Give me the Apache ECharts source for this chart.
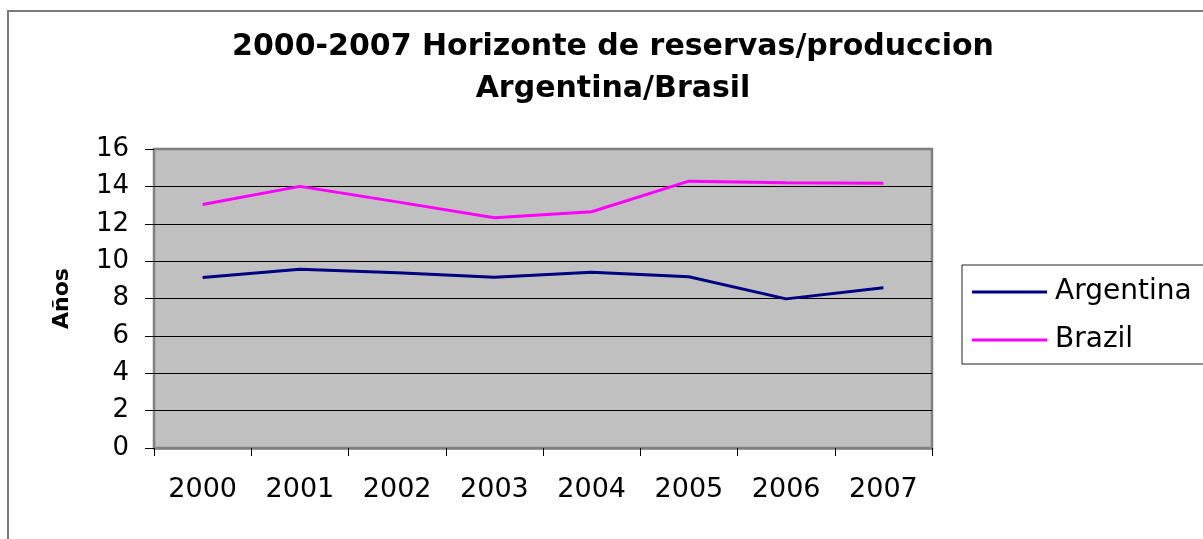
<!DOCTYPE html>
<html>
<head>
<meta charset="utf-8">
<script src="https://cdn.jsdelivr.net/npm/echarts@6/dist/echarts.min.js"></script>
<style>
  html, body { margin: 0; padding: 0; background: #fff; }
  #chart { width: 1203px; height: 539px; }
</style>
</head>
<body>
<div id="chart"></div>
<script>
  // datos
  const years = ['2000', '2001', '2002', '2003', '2004', '2005', '2006', '2007'];
  const argentina = [9.13, 9.56, 9.38, 9.14, 9.4, 9.16, 7.98, 8.57];
  const brazil = [13.03, 14.0, 13.17, 12.32, 12.64, 14.28, 14.2, 14.17];
  const yTicks = { min: 0, max: 16, interval: 2 };

  const font = 'DejaVu Sans';
  const chart = echarts.init(document.getElementById('chart'));

  chart.setOption({
    animation: false,
    title: {
      text: '2000-2007 Horizonte de reservas/produccion\nArgentina/Brasil',
      left: 613,
      top: 26,
      textAlign: 'center',
      padding: 0,
      textStyle: {
        fontFamily: font,
        fontWeight: 'bold',
        fontSize: 30,
        lineHeight: 42,
        color: '#000',
      },
    },
    graphic: [
      {
        type: 'rect',
        silent: true,
        shape: { x: 8, y: 11, width: 1400, height: 700 },
        style: { fill: 'none', stroke: '#7a7a7a', lineWidth: 2 },
      },
    ],
    legend: {
      orient: 'vertical',
      left: 962,
      top: 265,
      padding: [12, 60, 9, 10],
      itemGap: 18,
      itemWidth: 75,
      itemHeight: 3,
      itemStyle: { borderWidth: 0 },
      icon: 'rect',
      borderColor: '#222',
      borderWidth: 1,
      textStyle: {
        fontFamily: font,
        fontSize: 28,
        lineHeight: 30,
        color: '#000',
        padding: [0, 0, 0, 3],
      },
      data: ['Argentina', 'Brazil'],
    },
    grid: {
      left: 154,
      right: 271,
      top: 149,
      bottom: 91,
      show: true,
      backgroundColor: '#c0c0c0',
      borderColor: '#808080',
      borderWidth: 2.5,
    },
    xAxis: {
      type: 'category',
      data: years,
      boundaryGap: true,
      axisLine: { lineStyle: { color: '#808080', width: 2.5 } },
      axisTick: { show: true, length: 8, inside: false, lineStyle: { color: '#000', width: 1 } },
      axisLabel: {
        fontFamily: font,
        fontSize: 27,
        color: '#000',
        margin: 28,
      },
    },
    yAxis: {
      type: 'value',
      min: yTicks.min,
      max: yTicks.max,
      interval: yTicks.interval,
      name: 'Años',
      nameLocation: 'middle',
      nameRotate: 90,
      nameGap: 81,
      nameTextStyle: {
        fontFamily: font,
        fontWeight: 'bold',
        fontSize: 22,
        color: '#000',
      },
      axisLine: { show: false },
      axisTick: { show: true, length: 9, inside: false, lineStyle: { color: '#000', width: 1 } },
      splitLine: {
        show: true,
        showMinLine: false,
        showMaxLine: false,
        lineStyle: { color: '#000', width: 1 },
      },
      axisLabel: {
        fontFamily: font,
        fontSize: 26,
        color: '#000',
        margin: 25,
      },
    },
    series: [
      {
        name: 'Argentina',
        type: 'line',
        data: argentina,
        showSymbol: false,
        symbol: 'none',
        color: '#000080',
        lineStyle: { color: '#000080', width: 3 },
      },
      {
        name: 'Brazil',
        type: 'line',
        data: brazil,
        showSymbol: false,
        symbol: 'none',
        color: '#ff00ff',
        lineStyle: { color: '#ff00ff', width: 3 },
      },
    ],
  });
</script>
</body>
</html>
